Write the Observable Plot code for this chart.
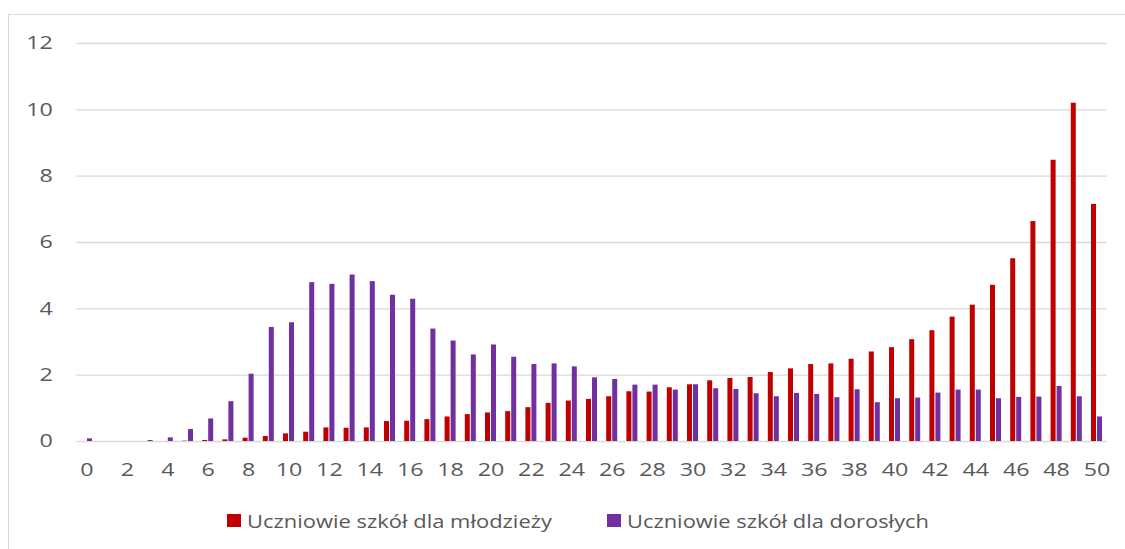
<!DOCTYPE html>
<html>
<head>
<meta charset="utf-8">
<script src="https://cdn.jsdelivr.net/npm/d3@7"></script>
<script src="https://cdn.jsdelivr.net/npm/@observablehq/plot@0.6"></script>
<style>
  html, body { margin: 0; padding: 0; background: #fff; overflow: hidden; width: 1125px; height: 549px; }
  #frame { position: absolute; left: 7.5px; top: 14px; width: 1200px; height: 600px; border: 1.5px solid #d9d9d9; box-sizing: border-box; }
  #chart { position: absolute; left: 0; top: 0; }
  #legend { position: absolute; top: 0; left: 0; width: 1125px; height: 549px; font-family: "Open Sans", sans-serif; font-size: 18.5px; color: #595959; }
  .sw { position: absolute; width: 14px; height: 13px; top: 514px; }
  .tx { position: absolute; top: 508px; line-height: 26px; white-space: nowrap; transform-origin: 0 50%; }
</style>
</head>
<body>
<div id="frame"></div>
<div id="chart"></div>
<div id="legend"></div>
<script>
const categories = d3.range(0, 51);
const youthValues = [0, 0, 0, 0, 0, 0.01, 0.03, 0.05, 0.1, 0.15, 0.23, 0.28, 0.41, 0.40, 0.41, 0.60, 0.61, 0.66, 0.74, 0.81, 0.86, 0.90, 1.02, 1.15, 1.22, 1.27, 1.35, 1.50, 1.49, 1.62, 1.71, 1.83, 1.90, 1.93, 2.08, 2.19, 2.32, 2.34, 2.48, 2.70, 2.83, 3.07, 3.34, 3.75, 4.11, 4.71, 5.51, 6.63, 8.48, 10.20, 7.15];
const adultValues = [0.08, 0, 0, 0.03, 0.11, 0.36, 0.68, 1.2, 2.03, 3.44, 3.58, 4.79, 4.74, 5.02, 4.82, 4.41, 4.29, 3.39, 3.03, 2.61, 2.91, 2.54, 2.32, 2.34, 2.25, 1.92, 1.87, 1.70, 1.70, 1.55, 1.71, 1.59, 1.57, 1.44, 1.35, 1.45, 1.42, 1.32, 1.56, 1.17, 1.29, 1.31, 1.46, 1.55, 1.55, 1.29, 1.33, 1.34, 1.66, 1.35, 0.74];
const yTicks = [0, 2, 4, 6, 8, 10, 12];
const xTicks = d3.range(0, 51, 2);
const seriesNames = ["Uczniowie szkół dla młodzieży", "Uczniowie szkół dla dorosłych"];
const seriesColors = ["#c00000", "#7030a0"];

const youth = categories.map((c, i) => ({cat: c, v: youthValues[i]}));
const adult = categories.map((c, i) => ({cat: c, v: adultValues[i]}));

const W = 1125, H = 490;
const chart = Plot.plot({
  width: W,
  height: H,
  marginLeft: 76.4,
  marginRight: 18.4,
  marginTop: 43,
  marginBottom: 49,
  style: {fontFamily: "'Open Sans', sans-serif", fontSize: "18.2px", color: "#595959", background: "transparent"},
  x: {type: "band", domain: categories, padding: 0, round: false, label: null},
  y: {domain: [0, 12], label: null},
  marks: [
    Plot.ruleY(yTicks, {stroke: "#d9d9d9", strokeWidth: 1.3}),
    Plot.barY(youth, {x: "cat", y: "v", fill: seriesColors[0], insetLeft: 4.6, insetRight: 10.6}),
    Plot.barY(adult, {x: "cat", y: "v", fill: seriesColors[1], insetLeft: 10.6, insetRight: 4.6}),
    Plot.axisY({ticks: yTicks, tickSize: 0, tickPadding: 24, fontSize: 18.2, fill: "#595959", label: null}),
    Plot.axisX({ticks: xTicks, tickSize: 0, tickPadding: 22, fontSize: 18.2, fill: "#595959", label: null})
  ]
});
document.getElementById("chart").appendChild(chart);

// widen tick label glyphs horizontally around their anchor (the reference's type is wide)
chart.querySelectorAll('g[aria-label="y-axis tick label"] text, g[aria-label="x-axis tick label"] text').forEach(t => {
  const tr = t.getAttribute("transform");
  if (tr) t.setAttribute("transform", tr + " scale(1.28,1)");
});

const legend = document.getElementById("legend");
const swatchLefts = [227, 607];
const targetWidths = [305, 302];
seriesNames.forEach((name, i) => {
  const sw = document.createElement("div");
  sw.className = "sw";
  sw.style.left = swatchLefts[i] + "px";
  sw.style.background = seriesColors[i];
  const tx = document.createElement("div");
  tx.className = "tx";
  tx.style.left = (swatchLefts[i] + 20) + "px";
  tx.textContent = name;
  legend.appendChild(sw);
  legend.appendChild(tx);
  const w = tx.getBoundingClientRect().width;
  if (w > 0) tx.style.transform = `scaleX(${targetWidths[i] / w})`;
});
</script>
</body>
</html>
